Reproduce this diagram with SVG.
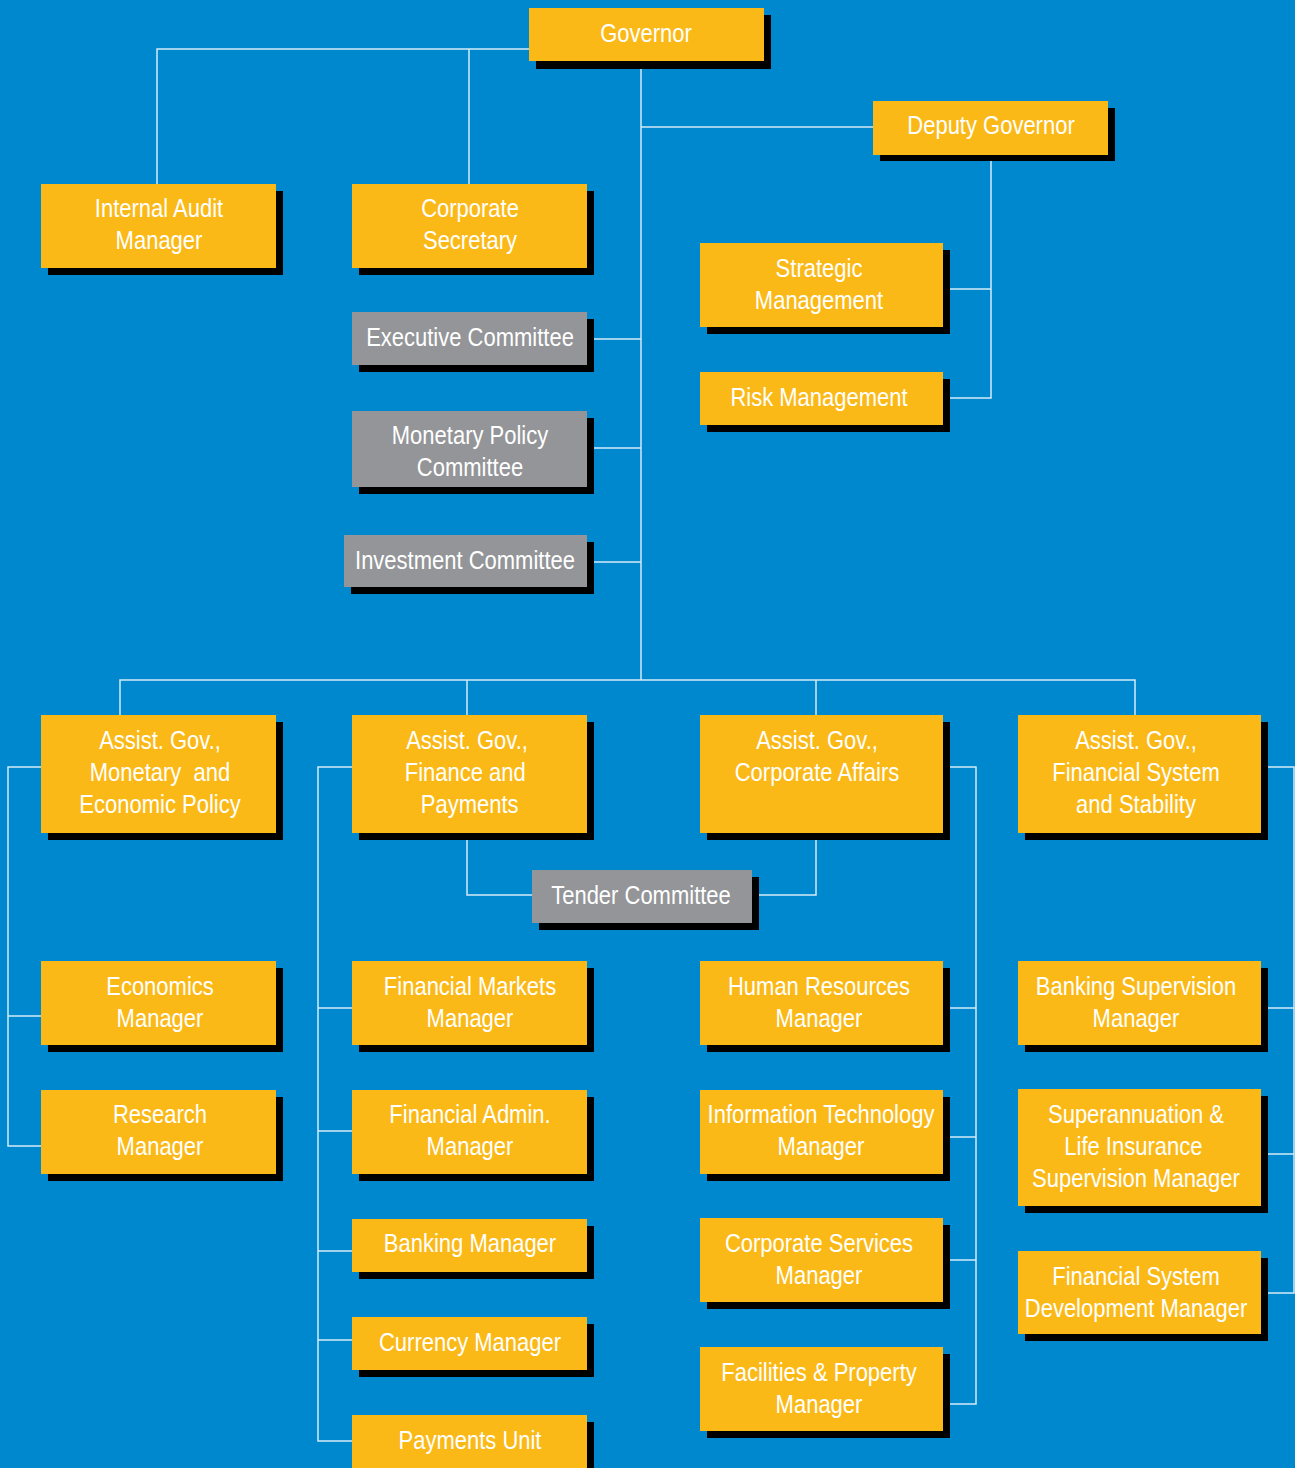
<svg xmlns="http://www.w3.org/2000/svg" width="1295" height="1468" viewBox="0 0 1295 1468">
<style>
.sh{fill:#000}
.o{fill:#FBB917}
.g{fill:#939598}
.t{font-family:"Liberation Sans",Arial,sans-serif;font-size:25px;fill:#fff;text-anchor:middle}
.c{stroke:#d4eaf7;stroke-width:1.5;fill:none}
</style>
<rect x="0" y="0" width="1295" height="1468" fill="#0088CF"/>
<g id="connectors" class="c">
<path d="M641 69V680"/>
<path d="M157 184V49H529M469 49V184"/>
<path d="M641 127H873"/>
<path d="M991 161V398H950M950 289H991"/>
<path d="M594 339H641M594 448H641M594 562H641"/>
<path d="M120 715V680H1135V715M467 680V715M816 680V715"/>
<path d="M41 767H8V1146H41M8 1016H41"/>
<path d="M352 767H318V1441H352M318 1008H352M318 1131H352M318 1251H352M318 1340H352"/>
<path d="M950 767H976V1404H950M950 1008H976M950 1137H976M950 1260H976"/>
<path d="M1268 767H1294V1293H1268M1268 1008H1294M1268 1154H1294"/>
<path d="M467 840V895H532M816 840V895H759"/>
</g>
<g id="governor"><rect class="sh" x="536" y="15" width="235" height="54"/><rect class="o" x="529" y="8" width="235" height="53"/><text class="t" transform="translate(646 0) scale(0.88 1)"><tspan x="0" y="42">Governor</tspan></text></g>
<g id="deputy-governor"><rect class="sh" x="880" y="108" width="235" height="53"/><rect class="o" x="873" y="101" width="235" height="54"/><text class="t" transform="translate(991 0) scale(0.88 1)"><tspan x="0" y="134">Deputy Governor</tspan></text></g>
<g id="internal-audit"><rect class="sh" x="48" y="191" width="235" height="84"/><rect class="o" x="41" y="184" width="235" height="84"/><text class="t" transform="translate(159 0) scale(0.88 1)"><tspan x="0" y="217">Internal Audit</tspan><tspan x="0" y="249">Manager</tspan></text></g>
<g id="corporate-secretary"><rect class="sh" x="359" y="191" width="235" height="84"/><rect class="o" x="352" y="184" width="235" height="84"/><text class="t" transform="translate(470 0) scale(0.88 1)"><tspan x="0" y="217">Corporate</tspan><tspan x="0" y="249">Secretary</tspan></text></g>
<g id="strategic-management"><rect class="sh" x="707" y="250" width="243" height="84"/><rect class="o" x="700" y="243" width="243" height="84"/><text class="t" transform="translate(819 0) scale(0.88 1)"><tspan x="0" y="277">Strategic</tspan><tspan x="0" y="309">Management</tspan></text></g>
<g id="risk-management"><rect class="sh" x="707" y="379" width="243" height="53"/><rect class="o" x="700" y="372" width="243" height="53"/><text class="t" transform="translate(819 0) scale(0.88 1)"><tspan x="0" y="406">Risk Management</tspan></text></g>
<g id="executive-committee"><rect class="sh" x="359" y="319" width="235" height="53"/><rect class="g" x="352" y="312" width="235" height="53"/><text class="t" transform="translate(470 0) scale(0.88 1)"><tspan x="0" y="346">Executive Committee</tspan></text></g>
<g id="monetary-policy-committee"><rect class="sh" x="359" y="418" width="235" height="76"/><rect class="g" x="352" y="411" width="235" height="76"/><text class="t" transform="translate(470 0) scale(0.88 1)"><tspan x="0" y="444">Monetary Policy</tspan><tspan x="0" y="476">Committee</tspan></text></g>
<g id="investment-committee"><rect class="sh" x="351" y="542" width="243" height="52"/><rect class="g" x="344" y="535" width="243" height="52"/><text class="t" transform="translate(465 0) scale(0.88 1)"><tspan x="0" y="569">Investment Committee</tspan></text></g>
<g id="ag-monetary"><rect class="sh" x="48" y="722" width="235" height="118"/><rect class="o" x="41" y="715" width="235" height="118"/><text class="t" transform="translate(160 0) scale(0.88 1)"><tspan x="0" y="749">Assist. Gov.,</tspan><tspan x="0" y="781" xml:space="preserve">Monetary  and</tspan><tspan x="0" y="813">Economic Policy</tspan></text></g>
<g id="ag-finance"><rect class="sh" x="359" y="722" width="235" height="118"/><rect class="o" x="352" y="715" width="235" height="118"/><text class="t" transform="translate(467 0) scale(0.88 1)"><tspan x="0" y="749">Assist. Gov.,</tspan><tspan x="-2" y="781">Finance and</tspan><tspan x="3" y="813">Payments</tspan></text></g>
<g id="ag-corporate"><rect class="sh" x="707" y="722" width="243" height="118"/><rect class="o" x="700" y="715" width="243" height="118"/><text class="t" transform="translate(817 0) scale(0.88 1)"><tspan x="0" y="749">Assist. Gov.,</tspan><tspan x="0" y="781">Corporate Affairs</tspan></text></g>
<g id="ag-financial-system"><rect class="sh" x="1025" y="722" width="243" height="118"/><rect class="o" x="1018" y="715" width="243" height="118"/><text class="t" transform="translate(1136 0) scale(0.88 1)"><tspan x="0" y="749">Assist. Gov.,</tspan><tspan x="0" y="781">Financial System</tspan><tspan x="0" y="813">and Stability</tspan></text></g>
<g id="tender-committee"><rect class="sh" x="539" y="877" width="220" height="53"/><rect class="g" x="532" y="870" width="220" height="53"/><text class="t" transform="translate(641 0) scale(0.88 1)"><tspan x="0" y="904">Tender Committee</tspan></text></g>
<g id="economics"><rect class="sh" x="48" y="968" width="235" height="84"/><rect class="o" x="41" y="961" width="235" height="84"/><text class="t" transform="translate(160 0) scale(0.88 1)"><tspan x="0" y="995">Economics</tspan><tspan x="0" y="1027">Manager</tspan></text></g>
<g id="research"><rect class="sh" x="48" y="1097" width="235" height="84"/><rect class="o" x="41" y="1090" width="235" height="84"/><text class="t" transform="translate(160 0) scale(0.88 1)"><tspan x="0" y="1123">Research</tspan><tspan x="0" y="1155">Manager</tspan></text></g>
<g id="financial-markets"><rect class="sh" x="359" y="968" width="235" height="84"/><rect class="o" x="352" y="961" width="235" height="84"/><text class="t" transform="translate(470 0) scale(0.88 1)"><tspan x="0" y="995">Financial Markets</tspan><tspan x="0" y="1027">Manager</tspan></text></g>
<g id="financial-admin"><rect class="sh" x="359" y="1097" width="235" height="84"/><rect class="o" x="352" y="1090" width="235" height="84"/><text class="t" transform="translate(470 0) scale(0.88 1)"><tspan x="0" y="1123">Financial Admin.</tspan><tspan x="0" y="1155">Manager</tspan></text></g>
<g id="banking"><rect class="sh" x="359" y="1226" width="235" height="53"/><rect class="o" x="352" y="1219" width="235" height="53"/><text class="t" transform="translate(470 0) scale(0.88 1)"><tspan x="0" y="1252">Banking Manager</tspan></text></g>
<g id="currency"><rect class="sh" x="359" y="1324" width="235" height="53"/><rect class="o" x="352" y="1317" width="235" height="53"/><text class="t" transform="translate(470 0) scale(0.88 1)"><tspan x="0" y="1351">Currency Manager</tspan></text></g>
<g id="payments-unit"><rect class="sh" x="359" y="1422" width="235" height="53"/><rect class="o" x="352" y="1415" width="235" height="60"/><text class="t" transform="translate(470 0) scale(0.88 1)"><tspan x="0" y="1449">Payments Unit</tspan></text></g>
<g id="human-resources"><rect class="sh" x="707" y="968" width="243" height="84"/><rect class="o" x="700" y="961" width="243" height="84"/><text class="t" transform="translate(819 0) scale(0.88 1)"><tspan x="0" y="995">Human Resources</tspan><tspan x="0" y="1027">Manager</tspan></text></g>
<g id="information-technology"><rect class="sh" x="707" y="1097" width="243" height="84"/><rect class="o" x="700" y="1090" width="243" height="84"/><text class="t" transform="translate(821 0) scale(0.88 1)"><tspan x="0" y="1123">Information Technology</tspan><tspan x="0" y="1155">Manager</tspan></text></g>
<g id="corporate-services"><rect class="sh" x="707" y="1225" width="243" height="84"/><rect class="o" x="700" y="1218" width="243" height="84"/><text class="t" transform="translate(819 0) scale(0.88 1)"><tspan x="0" y="1252">Corporate Services</tspan><tspan x="0" y="1284">Manager</tspan></text></g>
<g id="facilities"><rect class="sh" x="707" y="1354" width="243" height="84"/><rect class="o" x="700" y="1347" width="243" height="84"/><text class="t" transform="translate(819 0) scale(0.88 1)"><tspan x="0" y="1381">Facilities &amp; Property</tspan><tspan x="0" y="1413">Manager</tspan></text></g>
<g id="banking-supervision"><rect class="sh" x="1025" y="968" width="243" height="84"/><rect class="o" x="1018" y="961" width="243" height="84"/><text class="t" transform="translate(1136 0) scale(0.88 1)"><tspan x="0" y="995">Banking Supervision</tspan><tspan x="0" y="1027">Manager</tspan></text></g>
<g id="superannuation"><rect class="sh" x="1025" y="1096" width="243" height="117"/><rect class="o" x="1018" y="1089" width="243" height="117"/><text class="t" transform="translate(1136 0) scale(0.88 1)"><tspan x="0" y="1123">Superannuation &amp;</tspan><tspan x="-3" y="1155">Life Insurance</tspan><tspan x="0" y="1187">Supervision Manager</tspan></text></g>
<g id="financial-system-development"><rect class="sh" x="1025" y="1258" width="243" height="83"/><rect class="o" x="1018" y="1251" width="243" height="83"/><text class="t" transform="translate(1136 0) scale(0.88 1)"><tspan x="0" y="1285">Financial System</tspan><tspan x="0" y="1317">Development Manager</tspan></text></g>
</svg>
